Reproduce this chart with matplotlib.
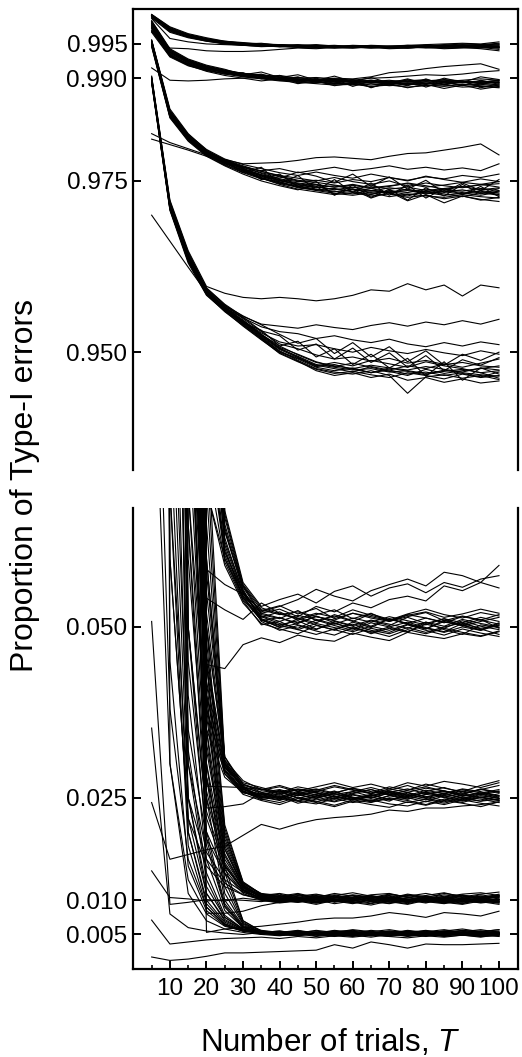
import numpy as np
import matplotlib
matplotlib.use("Agg")
import matplotlib.pyplot as plt
from matplotlib.ticker import FixedLocator

plt.rcParams["font.family"] = ["Liberation Sans", "DejaVu Sans"]
plt.rcParams["mathtext.fontset"] = "custom"
plt.rcParams["mathtext.rm"] = "Liberation Sans"
plt.rcParams["mathtext.it"] = "Liberation Sans:italic"

# number of trials
T = [5, 10, 15, 20, 25, 30, 35, 40, 45, 50, 55, 60, 65, 70, 75, 80, 85, 90, 95, 100]

# proportion of Type-I errors, x 1e4, one row per simulated curve
# upper panel: nominal 0.995 / 0.990 / 0.975 / 0.950
top_995 = [
    [9993, 9974, 9964, 9958, 9953, 9951, 9950, 9948, 9949, 9947, 9946, 9947, 9946, 9945, 9946, 9948, 9947, 9949, 9948, 9950],
    [9991, 9972, 9963, 9956, 9952, 9950, 9948, 9949, 9947, 9946, 9947, 9945, 9946, 9946, 9944, 9946, 9948, 9946, 9947, 9946],
    [9992, 9970, 9961, 9955, 9951, 9949, 9948, 9947, 9946, 9948, 9946, 9946, 9944, 9945, 9947, 9945, 9946, 9947, 9949, 9948],
    [9990, 9971, 9962, 9957, 9953, 9950, 9951, 9948, 9947, 9945, 9946, 9948, 9947, 9946, 9945, 9947, 9949, 9948, 9946, 9944],
    [9989, 9968, 9960, 9955, 9950, 9949, 9947, 9946, 9948, 9946, 9945, 9944, 9946, 9945, 9946, 9944, 9945, 9946, 9947, 9945],
    [9993, 9975, 9965, 9959, 9954, 9952, 9950, 9949, 9948, 9949, 9947, 9946, 9948, 9947, 9948, 9949, 9950, 9951, 9950, 9953],
    [9992, 9969, 9960, 9954, 9951, 9948, 9947, 9949, 9946, 9945, 9944, 9946, 9945, 9943, 9944, 9945, 9943, 9944, 9945, 9942],
    [9990, 9973, 9963, 9957, 9954, 9951, 9949, 9947, 9947, 9948, 9946, 9947, 9945, 9947, 9946, 9948, 9947, 9945, 9948, 9947],
    [9991, 9970, 9962, 9956, 9951, 9950, 9948, 9948, 9946, 9947, 9948, 9946, 9947, 9946, 9948, 9946, 9948, 9950, 9949, 9951],
    [9988, 9967, 9959, 9954, 9950, 9948, 9946, 9947, 9945, 9944, 9946, 9945, 9944, 9946, 9945, 9947, 9946, 9945, 9944, 9946],
    [9992, 9972, 9963, 9957, 9952, 9949, 9949, 9946, 9947, 9946, 9945, 9947, 9946, 9944, 9947, 9948, 9946, 9948, 9947, 9949],
    [9991, 9971, 9961, 9956, 9953, 9951, 9948, 9947, 9948, 9946, 9947, 9946, 9947, 9945, 9946, 9945, 9947, 9946, 9948, 9945],
    [9968, 9944, 9943, 9940, 9939, 9939, 9940, 9942, 9944, 9943, 9945, 9944, 9946, 9945, 9944, 9946, 9945, 9947, 9946, 9944],
    [9987, 9958, 9953, 9950, 9949, 9948, 9947, 9946, 9945, 9946, 9944, 9945, 9946, 9944, 9945, 9946, 9944, 9945, 9943, 9940],
]
top_990 = [
    [9980, 9940, 9925, 9916, 9911, 9906, 9903, 9899, 9898, 9897, 9895, 9896, 9893, 9894, 9892, 9895, 9894, 9893, 9895, 9893],
    [9976, 9937, 9922, 9915, 9908, 9905, 9901, 9900, 9896, 9893, 9897, 9894, 9895, 9891, 9893, 9892, 9896, 9894, 9892, 9894],
    [9972, 9934, 9921, 9913, 9910, 9904, 9900, 9897, 9899, 9895, 9892, 9893, 9896, 9894, 9890, 9893, 9891, 9895, 9893, 9890],
    [9983, 9942, 9927, 9918, 9912, 9907, 9904, 9901, 9897, 9899, 9896, 9898, 9894, 9896, 9895, 9897, 9895, 9897, 9899, 9897],
    [9969, 9932, 9919, 9912, 9907, 9903, 9900, 9898, 9895, 9894, 9893, 9890, 9892, 9889, 9891, 9890, 9888, 9891, 9889, 9887],
    [9978, 9938, 9924, 9915, 9909, 9906, 9902, 9904, 9900, 9901, 9899, 9897, 9900, 9901, 9903, 9905, 9904, 9906, 9909, 9911],
    [9974, 9935, 9920, 9914, 9910, 9907, 9903, 9899, 9897, 9895, 9891, 9894, 9890, 9893, 9892, 9889, 9893, 9890, 9891, 9889],
    [9981, 9939, 9926, 9917, 9911, 9905, 9904, 9902, 9898, 9896, 9897, 9895, 9897, 9895, 9897, 9896, 9898, 9896, 9894, 9897],
    [9967, 9931, 9918, 9911, 9906, 9902, 9899, 9896, 9894, 9892, 9890, 9891, 9888, 9890, 9887, 9889, 9890, 9887, 9888, 9886],
    [9977, 9936, 9923, 9914, 9908, 9904, 9901, 9899, 9901, 9898, 9900, 9899, 9902, 9908, 9910, 9914, 9917, 9919, 9921, 9913],
    [9975, 9933, 9921, 9913, 9909, 9903, 9900, 9897, 9896, 9898, 9894, 9892, 9894, 9892, 9895, 9893, 9891, 9894, 9896, 9894],
    [9982, 9941, 9926, 9917, 9911, 9907, 9905, 9902, 9899, 9897, 9898, 9896, 9895, 9897, 9894, 9896, 9897, 9895, 9893, 9895],
    [9915, 9897, 9896, 9897, 9899, 9900, 9901, 9900, 9898, 9897, 9899, 9895, 9897, 9894, 9896, 9898, 9893, 9895, 9894, 9897],
    [9979, 9938, 9924, 9916, 9909, 9903, 9906, 9898, 9902, 9894, 9899, 9888, 9896, 9890, 9898, 9887, 9895, 9889, 9897, 9891],
    [9973, 9934, 9920, 9912, 9906, 9908, 9899, 9904, 9893, 9900, 9892, 9898, 9886, 9894, 9889, 9899, 9890, 9896, 9886, 9892],
    [9984, 9943, 9928, 9919, 9913, 9905, 9909, 9901, 9905, 9897, 9903, 9895, 9901, 9893, 9899, 9892, 9900, 9894, 9902, 9898],
    [9970, 9933, 9919, 9910, 9904, 9900, 9896, 9899, 9892, 9896, 9889, 9893, 9887, 9892, 9886, 9891, 9885, 9890, 9884, 9888],
]
top_975 = [
    [9955, 9852, 9817, 9793, 9779, 9767, 9758, 9750, 9745, 9741, 9738, 9735, 9739, 9733, 9736, 9731, 9734, 9737, 9732, 9735],
    [9950, 9845, 9812, 9790, 9776, 9765, 9755, 9747, 9742, 9737, 9734, 9738, 9732, 9735, 9730, 9733, 9729, 9732, 9735, 9730],
    [9953, 9850, 9815, 9792, 9778, 9768, 9759, 9752, 9747, 9744, 9741, 9745, 9740, 9743, 9746, 9741, 9744, 9748, 9745, 9749],
    [9948, 9843, 9810, 9788, 9774, 9763, 9754, 9746, 9741, 9736, 9732, 9729, 9733, 9727, 9731, 9728, 9726, 9730, 9727, 9725],
    [9956, 9855, 9819, 9795, 9780, 9770, 9761, 9753, 9749, 9751, 9747, 9752, 9749, 9755, 9751, 9756, 9753, 9758, 9755, 9760],
    [9951, 9847, 9813, 9790, 9777, 9764, 9756, 9751, 9744, 9740, 9743, 9738, 9735, 9740, 9737, 9734, 9738, 9735, 9739, 9736],
    [9949, 9846, 9811, 9789, 9775, 9766, 9757, 9748, 9743, 9738, 9735, 9731, 9736, 9732, 9728, 9735, 9731, 9727, 9733, 9729],
    [9954, 9851, 9816, 9794, 9781, 9772, 9764, 9758, 9754, 9750, 9755, 9749, 9745, 9750, 9742, 9747, 9743, 9740, 9745, 9741],
    [9952, 9849, 9814, 9791, 9777, 9765, 9754, 9745, 9738, 9734, 9730, 9733, 9728, 9731, 9726, 9729, 9724, 9728, 9723, 9720],
    [9947, 9844, 9809, 9787, 9773, 9762, 9753, 9749, 9740, 9737, 9739, 9734, 9730, 9736, 9733, 9738, 9734, 9731, 9736, 9732],
    [9955, 9853, 9818, 9796, 9782, 9774, 9768, 9762, 9758, 9763, 9758, 9754, 9760, 9755, 9750, 9757, 9752, 9748, 9753, 9749],
    [9950, 9846, 9812, 9789, 9776, 9766, 9758, 9751, 9746, 9742, 9737, 9741, 9736, 9733, 9738, 9732, 9736, 9733, 9729, 9734],
    [9951, 9848, 9815, 9793, 9781, 9775, 9776, 9777, 9780, 9784, 9785, 9783, 9781, 9786, 9790, 9791, 9795, 9799, 9804, 9788],
    [9819, 9806, 9797, 9788, 9780, 9771, 9764, 9757, 9751, 9748, 9744, 9740, 9743, 9738, 9741, 9736, 9739, 9742, 9737, 9740],
    [9811, 9803, 9795, 9786, 9778, 9770, 9762, 9756, 9750, 9745, 9741, 9744, 9739, 9742, 9747, 9743, 9738, 9741, 9744, 9746],
    [9953, 9851, 9816, 9792, 9779, 9770, 9765, 9768, 9762, 9766, 9770, 9765, 9768, 9772, 9767, 9770, 9766, 9769, 9765, 9775],
    [9949, 9847, 9813, 9791, 9776, 9769, 9752, 9760, 9741, 9749, 9729, 9744, 9726, 9738, 9722, 9740, 9728, 9745, 9731, 9739],
    [9952, 9850, 9816, 9794, 9778, 9762, 9770, 9746, 9758, 9736, 9752, 9733, 9747, 9729, 9744, 9725, 9739, 9730, 9742, 9727],
    [9954, 9849, 9812, 9789, 9781, 9768, 9759, 9754, 9763, 9757, 9748, 9760, 9742, 9756, 9738, 9751, 9733, 9747, 9736, 9752],
    [9946, 9842, 9808, 9786, 9772, 9760, 9750, 9743, 9737, 9745, 9731, 9738, 9725, 9734, 9721, 9730, 9718, 9728, 9722, 9726],
]
top_950 = [
    [9899, 9716, 9640, 9590, 9566, 9545, 9525, 9505, 9494, 9482, 9478, 9474, 9476, 9471, 9473, 9469, 9472, 9475, 9470, 9473],
    [9895, 9710, 9633, 9585, 9562, 9541, 9520, 9500, 9490, 9478, 9473, 9477, 9470, 9474, 9468, 9471, 9466, 9470, 9467, 9465],
    [9901, 9719, 9644, 9593, 9569, 9549, 9530, 9512, 9505, 9496, 9490, 9493, 9487, 9491, 9484, 9488, 9482, 9485, 9480, 9478],
    [9897, 9713, 9637, 9588, 9563, 9542, 9522, 9502, 9488, 9476, 9471, 9468, 9473, 9466, 9440, 9464, 9467, 9462, 9466, 9460],
    [9903, 9722, 9648, 9596, 9586, 9580, 9578, 9580, 9578, 9575, 9578, 9583, 9591, 9589, 9600, 9591, 9598, 9582, 9598, 9594],
    [9893, 9707, 9630, 9583, 9560, 9538, 9518, 9499, 9487, 9473, 9466, 9470, 9463, 9468, 9459, 9463, 9456, 9461, 9455, 9458],
    [9898, 9715, 9641, 9591, 9565, 9550, 9537, 9530, 9527, 9520, 9524, 9518, 9514, 9519, 9512, 9508, 9514, 9509, 9515, 9511],
    [9900, 9717, 9642, 9589, 9564, 9546, 9528, 9515, 9509, 9511, 9505, 9500, 9507, 9502, 9498, 9504, 9499, 9495, 9502, 9497],
    [9896, 9711, 9635, 9586, 9561, 9540, 9521, 9501, 9491, 9481, 9476, 9471, 9479, 9474, 9480, 9476, 9483, 9478, 9484, 9490],
    [9894, 9709, 9632, 9584, 9559, 9539, 9519, 9498, 9486, 9475, 9469, 9472, 9467, 9463, 9470, 9466, 9461, 9468, 9463, 9466],
    [9902, 9720, 9646, 9594, 9570, 9552, 9541, 9538, 9535, 9540, 9536, 9533, 9539, 9543, 9538, 9544, 9540, 9546, 9541, 9548],
    [9897, 9714, 9638, 9587, 9562, 9543, 9523, 9504, 9492, 9479, 9482, 9475, 9470, 9477, 9472, 9467, 9474, 9469, 9464, 9471],
    [9899, 9712, 9636, 9590, 9566, 9547, 9526, 9507, 9497, 9486, 9479, 9484, 9478, 9472, 9466, 9475, 9469, 9473, 9476, 9480],
    [9895, 9708, 9634, 9585, 9561, 9544, 9524, 9506, 9493, 9480, 9485, 9480, 9488, 9483, 9478, 9486, 9480, 9476, 9470, 9462],
    [9700, 9662, 9624, 9587, 9563, 9545, 9526, 9509, 9496, 9485, 9480, 9476, 9481, 9477, 9474, 9479, 9475, 9471, 9477, 9474],
    [9898, 9714, 9639, 9588, 9567, 9551, 9531, 9524, 9503, 9512, 9490, 9506, 9485, 9499, 9478, 9495, 9473, 9489, 9481, 9492],
    [9896, 9712, 9636, 9586, 9564, 9543, 9532, 9509, 9516, 9493, 9505, 9482, 9497, 9477, 9491, 9465, 9486, 9459, 9477, 9468],
    [9900, 9716, 9641, 9592, 9568, 9553, 9540, 9526, 9513, 9520, 9498, 9514, 9493, 9508, 9486, 9502, 9481, 9497, 9488, 9500],
]

# lower panel: nominal 0.050 / 0.025 / 0.010 / 0.005 (large early values run off the top)
bot_050 = [
    [9990, 9500, 3000, 900, 620, 548, 515, 505, 498, 510, 502, 495, 506, 500, 493, 504, 498, 509, 501, 496],
    [9990, 9200, 2500, 800, 600, 540, 510, 500, 512, 503, 495, 507, 499, 512, 505, 497, 510, 503, 495, 505],
    [9990, 9800, 4000, 1200, 650, 560, 525, 518, 522, 515, 510, 520, 513, 508, 517, 522, 514, 519, 526, 520],
    [9990, 9000, 2000, 700, 590, 535, 505, 497, 490, 502, 496, 489, 498, 492, 503, 495, 488, 497, 491, 486],
    [9990, 9900, 5000, 1500, 670, 565, 530, 540, 548, 535, 552, 560, 545, 557, 563, 550, 565, 558, 570, 575],
    [9990, 9600, 3500, 1000, 630, 550, 512, 503, 509, 497, 505, 498, 492, 500, 507, 499, 493, 505, 498, 502],
    [9990, 9300, 2800, 850, 610, 545, 520, 526, 515, 530, 522, 535, 528, 540, 545, 538, 560, 553, 565, 557],
    [9990, 9700, 3800, 1100, 640, 555, 508, 495, 502, 494, 488, 499, 493, 486, 496, 490, 498, 492, 487, 494],
    [9990, 9400, 3200, 950, 615, 542, 514, 522, 510, 518, 525, 512, 520, 508, 515, 521, 509, 516, 510, 518],
    [9990, 9100, 2200, 750, 595, 538, 503, 508, 496, 489, 497, 504, 495, 490, 499, 492, 500, 506, 497, 489],
    [9990, 9850, 4500, 1300, 660, 558, 518, 512, 524, 509, 516, 508, 519, 511, 505, 513, 507, 503, 511, 498],
    [9990, 9550, 3300, 1000, 625, 551, 522, 530, 540, 555, 545, 538, 553, 562, 570, 560, 580, 575, 565, 590],
    [9990, 9750, 4200, 1150, 645, 553, 511, 499, 505, 516, 506, 497, 509, 502, 514, 505, 512, 501, 508, 514],
    [9990, 9250, 2600, 820, 605, 543, 509, 514, 503, 496, 508, 501, 490, 498, 492, 507, 496, 489, 503, 499],
    [9990, 9990, 6000, 584, 562, 548, 524, 531, 519, 527, 512, 520, 515, 509, 518, 513, 506, 515, 510, 504],
    [9990, 9990, 5500, 542, 525, 511, 535, 520, 513, 506, 518, 509, 501, 512, 504, 497, 508, 502, 496, 506],
    [9990, 9990, 6500, 445, 439, 474, 484, 477, 488, 482, 479, 491, 485, 480, 492, 487, 483, 490, 486, 493],
    [9990, 9990, 3000, 1000, 640, 560, 520, 513, 506, 515, 509, 502, 510, 504, 498, 507, 501, 511, 505, 500],
    [9990, 9990, 2000, 800, 610, 550, 516, 508, 517, 511, 504, 513, 507, 515, 509, 503, 512, 506, 514, 508],
    [9990, 9990, 5000, 1400, 665, 562, 528, 519, 512, 520, 514, 525, 517, 510, 519, 526, 518, 513, 521, 516],
    [9990, 9990, 1200, 700, 600, 545, 510, 502, 496, 505, 499, 493, 501, 495, 504, 498, 492, 500, 495, 503],
]
bot_025 = [
    [9990, 8000, 1500, 500, 300, 262, 255, 248, 258, 251, 245, 254, 249, 257, 250, 244, 253, 247, 255, 249],
    [9990, 7000, 1200, 420, 290, 258, 250, 256, 246, 253, 260, 249, 255, 247, 252, 258, 250, 245, 251, 246],
    [9990, 9500, 2500, 700, 300, 270, 258, 262, 255, 249, 257, 264, 256, 261, 268, 259, 265, 257, 262, 268],
    [9990, 6000, 1000, 380, 285, 255, 246, 240, 249, 243, 237, 245, 240, 236, 244, 239, 246, 242, 237, 244],
    [9990, 9000, 2000, 600, 296, 268, 263, 255, 262, 257, 251, 259, 265, 258, 253, 261, 256, 263, 259, 252],
    [9990, 8500, 1800, 550, 310, 265, 252, 259, 250, 244, 252, 247, 253, 260, 255, 249, 244, 251, 248, 243],
    [9990, 9800, 3000, 800, 305, 275, 262, 268, 260, 266, 272, 265, 270, 263, 272, 267, 274, 270, 265, 272],
    [9990, 7500, 1400, 460, 295, 260, 248, 243, 251, 245, 239, 247, 243, 250, 246, 240, 248, 243, 251, 247],
    [9990, 9200, 2200, 650, 298, 266, 251, 246, 254, 260, 253, 247, 251, 245, 257, 252, 246, 254, 250, 256],
    [9990, 6500, 1100, 400, 288, 257, 254, 260, 249, 255, 248, 256, 262, 254, 248, 255, 259, 252, 257, 250],
    [9990, 9600, 2800, 750, 302, 272, 265, 258, 266, 261, 268, 262, 257, 266, 261, 270, 264, 259, 268, 275],
    [9990, 8200, 1600, 520, 305, 263, 249, 253, 245, 241, 249, 243, 247, 241, 238, 245, 240, 247, 242, 238],
    [9990, 8800, 1900, 580, 295, 267, 256, 250, 257, 252, 259, 251, 246, 253, 258, 251, 257, 249, 256, 260],
    [9990, 7200, 1300, 440, 292, 259, 247, 252, 242, 248, 244, 250, 244, 249, 243, 248, 242, 249, 245, 248],
    [243, 160, 167, 174, 179, 195, 211, 204, 212, 218, 221, 223, 226, 232, 230, 235, 235, 238, 240, 244],
    [9990, 9990, 3000, 267, 266, 265, 262, 258, 263, 259, 266, 261, 256, 263, 258, 264, 260, 255, 262, 258],
    [9990, 9990, 2500, 235, 237, 241, 257, 250, 256, 262, 255, 259, 252, 258, 263, 256, 260, 253, 257, 262],
    [9990, 3000, 700, 350, 280, 258, 252, 247, 254, 249, 256, 250, 245, 253, 248, 255, 251, 246, 253, 249],
    [9990, 5000, 900, 400, 290, 262, 255, 261, 253, 258, 251, 257, 262, 255, 250, 258, 253, 260, 254, 259],
    [9990, 9990, 1500, 450, 295, 265, 258, 252, 259, 254, 248, 255, 250, 257, 252, 247, 255, 250, 245, 253],
    [9990, 9990, 1000, 380, 285, 260, 253, 249, 245, 251, 256, 249, 254, 247, 252, 258, 251, 256, 250, 246],
    [9990, 9990, 4000, 600, 310, 270, 261, 266, 259, 263, 257, 264, 259, 254, 261, 266, 260, 255, 263, 258],
    [9990, 9990, 2000, 500, 300, 264, 250, 256, 262, 257, 251, 247, 253, 259, 254, 250, 256, 262, 257, 253],
]
bot_010 = [
    [9990, 4000, 800, 300, 160, 118, 106, 101, 104, 99, 103, 107, 100, 105, 102, 98, 104, 101, 106, 103],
    [9990, 3000, 600, 250, 150, 114, 103, 98, 101, 105, 97, 102, 99, 104, 100, 96, 102, 99, 97, 101],
    [9990, 6000, 1200, 400, 190, 124, 110, 107, 103, 108, 105, 101, 106, 103, 109, 105, 102, 107, 104, 108],
    [9990, 2000, 450, 200, 140, 110, 100, 96, 99, 94, 100, 97, 93, 99, 95, 101, 97, 94, 99, 96],
    [9990, 7000, 1400, 420, 195, 125, 108, 104, 109, 103, 107, 111, 106, 102, 108, 104, 110, 106, 103, 109],
    [9990, 5000, 1000, 350, 175, 120, 104, 100, 97, 102, 99, 95, 101, 98, 94, 100, 96, 102, 98, 94],
    [9990, 8000, 1500, 450, 200, 122, 107, 110, 105, 100, 106, 103, 108, 110, 104, 107, 111, 105, 109, 112],
    [9990, 3500, 700, 280, 155, 116, 102, 97, 100, 96, 99, 104, 98, 95, 100, 103, 98, 95, 101, 98],
    [9990, 5500, 1100, 370, 180, 121, 105, 109, 102, 106, 101, 99, 104, 107, 101, 97, 103, 108, 102, 105],
    [9990, 2500, 500, 220, 145, 112, 101, 103, 98, 101, 95, 99, 103, 97, 101, 98, 95, 100, 96, 99],
    [9990, 9000, 1800, 480, 205, 126, 109, 105, 108, 104, 110, 106, 102, 108, 106, 110, 105, 109, 111, 107],
    [9990, 4500, 900, 320, 168, 119, 104, 99, 103, 97, 102, 100, 96, 101, 99, 104, 100, 97, 103, 100],
    [9990, 6500, 1300, 380, 185, 123, 106, 102, 106, 109, 104, 108, 105, 101, 107, 102, 108, 104, 100, 106],
    [9990, 3200, 650, 260, 152, 115, 103, 106, 101, 98, 104, 101, 107, 103, 97, 102, 99, 103, 106, 102],
    [9990, 9990, 1500, 53, 58, 60, 62, 65, 68, 72, 74, 74, 77, 82, 79, 75, 82, 80, 77, 84],
    [9990, 9990, 2000, 81, 81, 84, 92, 97, 99, 96, 101, 98, 95, 100, 97, 102, 99, 96, 100, 98],
    [143, 104, 102, 99, 101, 100, 98, 102, 99, 103, 100, 97, 101, 99, 102, 98, 100, 103, 99, 101],
    [508, 94, 97, 101, 99, 103, 100, 97, 102, 98, 101, 99, 104, 100, 97, 101, 98, 102, 100, 97],
    [9990, 1000, 300, 170, 130, 112, 104, 99, 102, 98, 101, 96, 100, 103, 98, 101, 97, 102, 99, 96],
    [9990, 1500, 350, 190, 138, 114, 102, 106, 100, 104, 98, 102, 105, 100, 97, 101, 104, 99, 102, 105],
    [9990, 700, 250, 160, 125, 108, 103, 100, 97, 101, 99, 103, 98, 101, 104, 99, 96, 100, 103, 98],
    [9990, 2500, 500, 230, 150, 116, 106, 103, 107, 101, 105, 102, 99, 104, 101, 106, 103, 100, 104, 107],
    [9990, 9500, 900, 280, 165, 118, 105, 101, 104, 107, 102, 99, 103, 106, 100, 104, 101, 98, 102, 100],
    [9990, 9900, 1200, 330, 175, 121, 107, 104, 100, 105, 108, 103, 106, 102, 99, 105, 102, 107, 103, 106],
    [9990, 9900, 2500, 500, 210, 127, 109, 106, 110, 104, 101, 107, 104, 109, 105, 100, 106, 103, 108, 104],
    [9990, 600, 220, 150, 120, 108, 101, 98, 102, 97, 100, 104, 99, 96, 101, 98, 102, 100, 97, 101],
]
bot_005 = [
    [1000, 300, 130, 80, 62, 55, 52, 50, 53, 49, 51, 54, 50, 52, 48, 51, 53, 50, 52, 49],
    [1200, 380, 160, 90, 65, 56, 51, 53, 49, 52, 50, 48, 52, 49, 53, 50, 48, 51, 49, 52],
    [2500, 600, 220, 110, 70, 57, 54, 51, 55, 52, 56, 53, 51, 55, 52, 54, 57, 53, 55, 52],
    [3000, 900, 250, 120, 75, 58, 50, 48, 51, 47, 50, 49, 46, 50, 48, 51, 47, 49, 46, 50],
    [5000, 1500, 320, 140, 78, 58, 53, 55, 52, 56, 53, 57, 54, 52, 56, 53, 55, 58, 54, 57],
    [6000, 2000, 400, 160, 85, 60, 52, 49, 52, 50, 47, 51, 49, 53, 50, 48, 52, 49, 51, 48],
    [8000, 3000, 500, 180, 90, 60, 55, 52, 54, 51, 55, 52, 56, 53, 51, 55, 53, 56, 52, 55],
    [9000, 4000, 650, 200, 95, 62, 51, 54, 50, 53, 49, 52, 50, 47, 51, 49, 53, 50, 48, 51],
    [9500, 5000, 900, 250, 100, 63, 54, 50, 53, 55, 51, 54, 52, 55, 53, 56, 52, 54, 57, 53],
    [9800, 6000, 1200, 280, 110, 65, 53, 51, 49, 52, 50, 47, 51, 49, 52, 50, 48, 52, 50, 47],
    [9900, 7000, 1500, 300, 120, 66, 56, 53, 55, 52, 54, 56, 53, 50, 54, 52, 55, 53, 51, 54],
    [9900, 7500, 2000, 350, 130, 68, 52, 50, 48, 51, 49, 52, 48, 51, 47, 50, 48, 51, 49, 52],
    [9950, 8000, 2500, 400, 140, 70, 55, 53, 56, 52, 55, 51, 54, 57, 53, 55, 52, 56, 54, 57],
    [9950, 8500, 3000, 450, 150, 70, 54, 51, 49, 53, 51, 54, 50, 52, 55, 51, 54, 50, 53, 51],
    [71, 36, 39, 42, 44, 45, 46, 44, 47, 45, 48, 46, 49, 47, 45, 48, 46, 49, 47, 48],
    [17, 12, 14, 18, 23, 23, 24, 25, 26, 27, 35, 30, 39, 35, 30, 36, 35, 35, 36, 37],
    [352, 80, 60, 55, 52, 50, 53, 49, 52, 50, 48, 51, 49, 52, 50, 47, 51, 49, 52, 50],
    [9000, 300, 110, 70, 58, 53, 50, 52, 49, 53, 51, 48, 52, 50, 54, 51, 49, 53, 50, 52],
    [9500, 450, 150, 85, 63, 55, 52, 49, 51, 48, 52, 50, 53, 49, 51, 48, 52, 50, 48, 51],
    [9900, 800, 200, 100, 68, 56, 53, 51, 54, 50, 52, 55, 51, 53, 50, 52, 55, 51, 54, 50],
    [9900, 1200, 250, 110, 72, 57, 51, 54, 50, 52, 48, 51, 49, 52, 50, 53, 49, 51, 48, 52],
    [9950, 2500, 300, 130, 75, 58, 54, 52, 55, 51, 54, 52, 50, 54, 52, 49, 53, 51, 55, 52],
    [9950, 1800, 200, 95, 66, 55, 52, 49, 52, 50, 53, 50, 48, 51, 49, 52, 50, 53, 50, 48],
    [9800, 700, 180, 90, 64, 55, 53, 50, 48, 52, 49, 53, 51, 48, 52, 50, 53, 49, 52, 50],
    [9990, 9000, 1000, 190, 92, 61, 53, 55, 51, 54, 52, 49, 53, 51, 55, 52, 50, 54, 51, 53],
]

top_ticks = [0.950, 0.975, 0.990, 0.995]
bot_ticks = [0.005, 0.010, 0.025, 0.050]
x_major = [10, 20, 30, 40, 50, 60, 70, 80, 90, 100]
x_minor = [5, 15, 25, 35, 45, 55, 65, 75, 85, 95]

W, H = 522, 1057
fig = plt.figure(figsize=(W / 100, H / 100), dpi=100)
ax_top = fig.add_axes([133 / W, 1 - 470 / H, 385 / W, 461 / H])
ax_bot = fig.add_axes([133 / W, 1 - 969.3 / H, 385 / W, 461.3 / H])

for ax, groups in ((ax_top, (top_995, top_990, top_975, top_950)),
                   (ax_bot, (bot_050, bot_025, bot_010, bot_005))):
    for g in groups:
        for row in g:
            ax.plot(T, np.array(row) / 1e4, color="black", lw=0.8)
    ax.set_xlim(-0.1, 105.2)
    for s in ax.spines.values():
        s.set_linewidth(1.6)
    ax.tick_params(axis="y", which="both", direction="in", left=True, right=True,
                   length=6, width=1.4, labelsize=17.5, pad=4)

ax_top.set_ylim(0.9328, 1.0001)
ax_top.set_yticks(top_ticks)
ax_top.set_yticklabels([f"{v:.3f}" for v in top_ticks])
ax_top.spines["bottom"].set_visible(False)
ax_top.tick_params(axis="x", which="both", bottom=False, top=False, labelbottom=False)

ax_bot.set_ylim(-0.0001, 0.0674)
ax_bot.set_yticks(bot_ticks)
ax_bot.set_yticklabels([f"{v:.3f}" for v in bot_ticks])
ax_bot.spines["top"].set_visible(False)
ax_bot.xaxis.set_major_locator(FixedLocator(x_major))
ax_bot.xaxis.set_minor_locator(FixedLocator(x_minor))
ax_bot.tick_params(axis="x", which="major", direction="in", top=False, length=5.5,
                   width=1.4, labelsize=17.5, pad=6)
ax_bot.tick_params(axis="x", which="minor", direction="in", top=False, length=3, width=1.2)

fig.text(330 / W, 1 - 1051 / H, r"Number of trials, $\mathit{T}$", fontsize=22.5,
         ha="center", va="baseline")
fig.text(25 / W, 1 - 485 / H, "Proportion of Type-I errors", fontsize=23,
         rotation=90, ha="center", va="center")

fig.savefig("out.png", dpi=100)
